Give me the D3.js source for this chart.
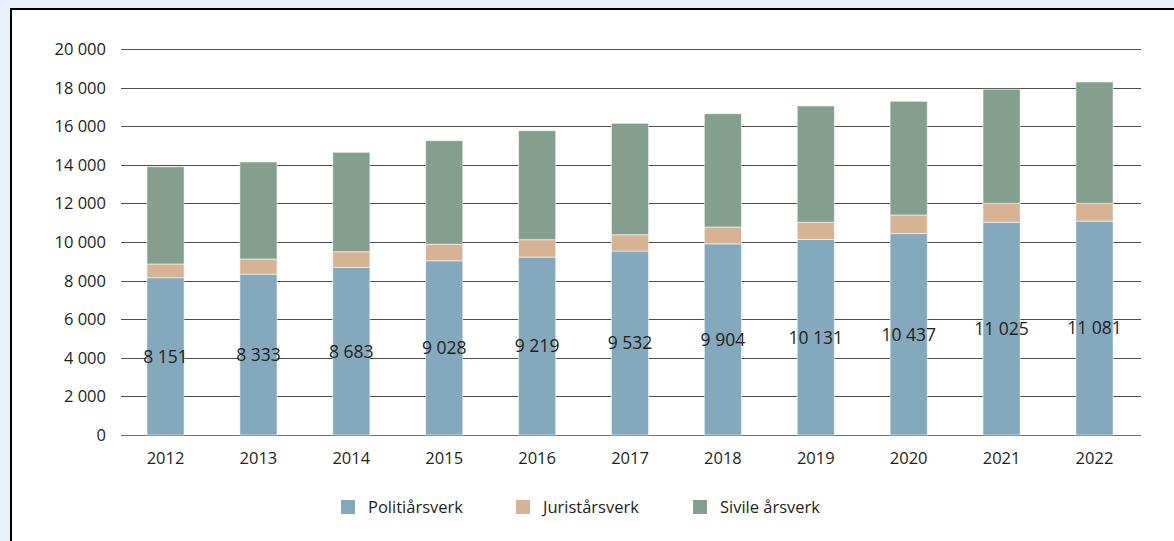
<!DOCTYPE html>
<html>
<head>
<meta charset="utf-8">
<script src="https://cdn.jsdelivr.net/npm/d3@7"></script>
<style>
  html, body { margin: 0; padding: 0; background: #e9f0f8; }
  svg { display: block; }
  text { font-family: "Open Sans", "Noto Sans", sans-serif; fill: #231f20; }
</style>
</head>
<body>
<svg id="chart" width="1174" height="541"></svg>
<script>
// Årsverk i politiet, 2012–2022
const years = ["2012", "2013", "2014", "2015", "2016", "2017", "2018", "2019", "2020", "2021", "2022"];
const politi = [8151, 8333, 8683, 9028, 9219, 9532, 9904, 10131, 10437, 11025, 11081];
const jurist = [710, 786, 814, 853, 900, 846, 873, 888, 962, 978, 922];
const sivile = [5040, 5026, 5151, 5368, 5648, 5772, 5871, 6028, 5891, 5909, 6287];
const yTicks = [0, 2000, 4000, 6000, 8000, 10000, 12000, 14000, 16000, 18000, 20000];
const seriesNames = ["Politiårsverk", "Juristårsverk", "Sivile årsverk"];
const seriesColors = ["#84a8bc", "#d6b394", "#849f8e"];

const svg = d3.select("#chart");
const W = 1174, H = 541;

// white panel with a black frame running off the right and bottom edges
svg.append("rect")
  .attr("x", 11).attr("y", 9)
  .attr("width", W + 20).attr("height", H + 20)
  .attr("fill", "#fff").attr("stroke", "#000").attr("stroke-width", 2);

const plot = { left: 121, right: 1141, top: 49, bottom: 435 };

const x = d3.scaleBand().domain(years).range([plot.left - 1, plot.right - 1]).paddingInner(0.6).paddingOuter(0.29);
const y = d3.scaleLinear().domain([0, 20000]).range([plot.bottom, plot.top]);

const fmt = v => d3.format(",")(v).replace(/,/g, " ");

// gridlines
svg.append("g")
  .selectAll("line").data(yTicks).join("line")
  .attr("x1", plot.left).attr("x2", plot.right)
  .attr("y1", d => Math.round(y(d)) + 0.5).attr("y2", d => Math.round(y(d)) + 0.5)
  .attr("stroke", d => d === 0 ? "#6d6e71" : "#4d4d4f")
  .attr("stroke-width", 1.2);

// y tick labels
svg.append("g")
  .selectAll("text").data(yTicks).join("text")
  .attr("x", 106).attr("y", d => y(d))
  .attr("dy", "0.36em")
  .attr("text-anchor", "end")
  .attr("font-size", 16.5)
  .text(d => fmt(d));

// stack the three series
const rows = years.map((yr, i) => ({ year: yr, p: politi[i], j: jurist[i], s: sivile[i] }));
const stack = d3.stack().keys(["p", "j", "s"])(rows);

svg.append("g")
  .selectAll("g").data(stack).join("g")
  .attr("fill", (d, i) => seriesColors[i])
  .selectAll("rect").data(d => d).join("rect")
  .attr("x", d => x(d.data.year))
  .attr("width", x.bandwidth())
  .attr("y", d => y(d[1]))
  .attr("height", d => y(d[0]) - y(d[1]))
  .attr("stroke", "rgba(255,255,255,0.55)")
  .attr("stroke-width", 1);

// value labels for the police series, centred in the segment
svg.append("g")
  .selectAll("text").data(rows).join("text")
  .attr("x", d => x(d.year) + x.bandwidth() / 2)
  .attr("y", d => y(d.p / 2))
  .attr("dy", "0.36em")
  .attr("text-anchor", "middle")
  .attr("font-size", 17.5)
  .text(d => fmt(d.p));

// x labels
svg.append("g")
  .selectAll("text").data(years).join("text")
  .attr("x", d => x(d) + x.bandwidth() / 2)
  .attr("y", 458)
  .attr("dy", "0.36em")
  .attr("text-anchor", "middle")
  .attr("font-size", 16.5)
  .text(d => d);

// legend
const legendX = [341, 516, 693];
const lg = svg.append("g").selectAll("g").data(seriesNames).join("g")
  .attr("transform", (d, i) => `translate(${legendX[i]},500)`);
lg.append("rect").attr("width", 14).attr("height", 14).attr("fill", (d, i) => seriesColors[i]);
lg.append("text").attr("x", 27).attr("y", 7).attr("dy", "0.36em")
  .attr("font-size", 16.5).text(d => d);
</script>
</body>
</html>
